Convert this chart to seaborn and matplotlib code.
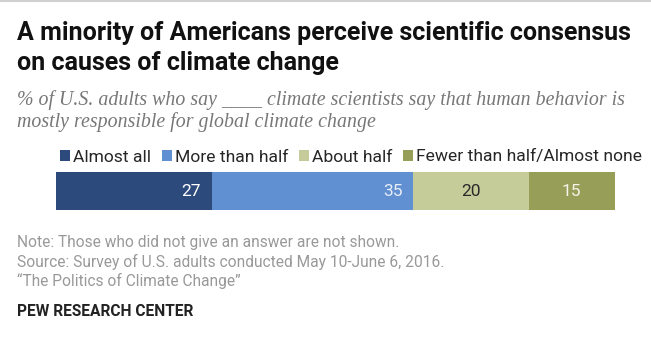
import matplotlib
matplotlib.use("Agg")
import matplotlib.pyplot as plt
import seaborn as sns
import numpy as np
import pandas as pd
from matplotlib.patches import Patch

categories = ["Almost all", "More than half", "About half", "Fewer than half/Almost none"]
values = [27, 35, 20, 15]
colors = ["#2d4a7c", "#6190d2", "#c6cc99", "#979e58"]
label_colors = ["#ffffff", "#e8eef8", "#2a2a2a", "#f4f4e8"]

sns.set_theme(style="white")
plt.rcParams['font.family'] = ['Roboto', 'DejaVu Sans']

fig = plt.figure(figsize=(6.51, 3.41), dpi=100)
ax = fig.add_axes([56/651, 1-210/341, 559/651, 38/341])

cum = np.cumsum(values)
for i in range(len(values) - 1, -1, -1):
    sns.barplot(x=[cum[i]], y=["all"], color=colors[i], width=1.0, ax=ax,
                orient="h", saturation=1, edgecolor="none", linewidth=0)

ax.set_xlim(0, cum[-1])
ax.set_ylim(0.5, -0.5)
ax.axis("off")

starts = np.concatenate([[0], cum[:-1]])
for i, v in enumerate(values):
    if i < 2:
        ax.text(cum[i] - 1.8, 0, str(v), ha="right", va="center", color=label_colors[i], fontsize=12.5)
    else:
        ax.text(starts[i] + v / 2, 0, str(v), ha="center", va="center", color=label_colors[i], fontsize=12.5)

handles = [Patch(facecolor=c, edgecolor="none") for c in colors]
fig.legend(handles, categories, loc="center right", bbox_to_anchor=(642/651, 1-157/341),
           ncol=4, frameon=False, fontsize=12.6, handlelength=0.55, handleheight=0.55,
           handletextpad=0.2, columnspacing=0.6, borderaxespad=0, borderpad=0)

fig.add_artist(plt.Line2D([0.0, 1.0], [1-1/341, 1-1/341], color="#d0d0d0", lw=1.5))

fig.text(17/651, 1-33/341, "A minority of Americans perceive scientific consensus", fontsize=18,
         fontweight="bold", color="#111111", va="center", ha="left")
fig.text(17/651, 1-63/341, "on causes of climate change", fontsize=18,
         fontweight="bold", color="#111111", va="center", ha="left")
serif = ["Liberation Serif", "DejaVu Serif"]
fig.text(17/651, 1-100/341, "% of U.S. adults who say ____ climate scientists say that human behavior is",
         fontsize=14.3, style="italic", family=serif, color="#777777", va="center", ha="left")
fig.text(17/651, 1-122/341, "mostly responsible for global climate change",
         fontsize=14.3, style="italic", family=serif, color="#777777", va="center", ha="left")

notes = ["Note: Those who did not give an answer are not shown.",
         "Source: Survey of U.S. adults conducted May 10-June 6, 2016.",
         "\u201cThe Politics of Climate Change\u201d"]
for k, line in enumerate(notes):
    fig.text(17/651, 1-(243 + 19*k)/341, line, fontsize=11.2, color="#999999", va="center", ha="left")
fig.text(17/651, 1-312/341, "PEW RESEARCH CENTER", fontsize=11.2, fontweight="bold", color="#222222",
         va="center", ha="left")

fig.savefig("out.png", dpi=100, facecolor="white")
